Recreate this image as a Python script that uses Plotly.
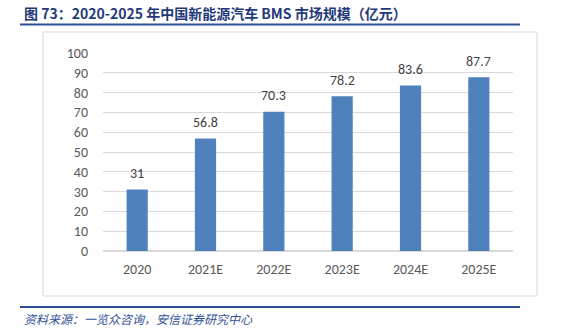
import plotly.graph_objects as go

categories = ["2020", "2021E", "2022E", "2023E", "2024E", "2025E"]
values = [31, 56.8, 70.3, 78.2, 83.6, 87.7]
labels = ["31", "56.8", "70.3", "78.2", "83.6", "87.7"]
y_ticks = [0, 10, 20, 30, 40, 50, 60, 70, 80, 90, 100]

W, H = 564, 331
PL, PR, PT, PB = 103, 513, 53, 251  # plot area in pixels

fig = go.Figure()
fig.add_trace(go.Bar(
    x=categories, y=values,
    marker=dict(color="#4F81BD", line=dict(width=0)),
    width=0.31, hoverinfo="x+y",
))

def px(x): return (x - PL) / (PR - PL)
def py(y): return (PB - y) / (PB - PT)

shapes = [
    dict(type="rect", xref="paper", yref="paper", x0=px(43), x1=px(537), y0=py(296), y1=py(32),
         line=dict(color="#D9D9D9", width=1), fillcolor="rgba(0,0,0,0)", layer="below"),
    dict(type="line", xref="paper", yref="paper", x0=px(20), x1=px(520), y0=py(24.5), y1=py(24.5),
         line=dict(color="#2F4F96", width=2)),
    dict(type="line", xref="paper", yref="paper", x0=px(20), x1=px(520), y0=py(307), y1=py(307),
         line=dict(color="#2F4F96", width=2)),
]

lab_font = dict(family="Carlito, Calibri, Liberation Sans, sans-serif", size=14, color="#404040")
annotations = [
    dict(text=t, x=i, y=v, xref="x", yref="y", yanchor="middle", yshift=16, showarrow=False, font=lab_font)
    for i, (v, t) in enumerate(zip(values, labels))
]
annotations += [
    dict(text="<b>图 73：2020-2025 年中国新能源汽车 BMS 市场规模（亿元）</b>", xref="paper", yref="paper",
         x=px(22), y=py(13), xanchor="left", yanchor="middle", showarrow=False,
         font=dict(family="Noto Sans CJK SC, Liberation Sans, sans-serif", size=14, color="#1F3A7A")),
    dict(text="<i>资料来源：一览众咨询，安信证券研究中心</i>", xref="paper", yref="paper",
         x=px(22), y=py(318), xanchor="left", yanchor="middle", showarrow=False,
         font=dict(family="Noto Sans CJK SC, sans-serif", size=12, color="#2F4F96")),
]

tick_font = dict(family="Carlito, Calibri, Liberation Sans, sans-serif", size=14, color="#595959")
fig.update_layout(
    width=W, height=H,
    margin=dict(l=PL, r=W - PR, t=PT, b=H - PB, pad=0),
    paper_bgcolor="white", plot_bgcolor="white",
    showlegend=False,
    shapes=shapes, annotations=annotations,
    xaxis=dict(type="category", range=[-0.5, len(categories) - 0.5], autorange=False,
               showgrid=False, showline=False, ticks="", tickfont=tick_font, ticklabelstandoff=8),
    yaxis=dict(range=[0, 100], tickvals=y_ticks, showgrid=True, gridcolor="#D9D9D9", gridwidth=1,
               zeroline=True, zerolinecolor="#D9D9D9", showline=False, ticks="",
               tickfont=tick_font, ticklabelstandoff=14),
)

fig.write_html("out.html")
